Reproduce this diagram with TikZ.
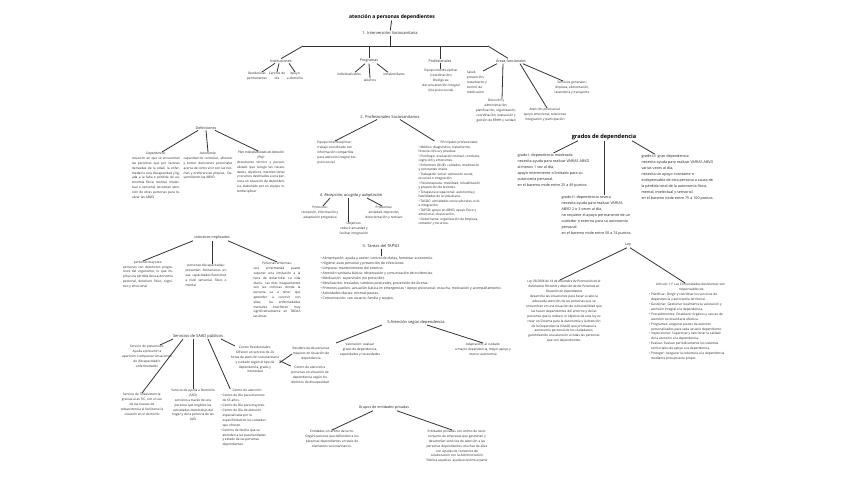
\documentclass[tikz,border=0pt]{standalone}
\usepackage{fontspec}
\setmainfont{Open Sans}
\newcommand\contind{\phantom{\textbullet\ }}
\begin{document}
\begin{tikzpicture}[x=1pt,y=-1pt,
  txs/.style={font=\fontsize{3.2}{4.8}\selectfont, inner sep=0.3pt, align=center, text=black!85},
  txj/.style={txs, align=justify},
  txg/.style={font=\fontsize{3.7}{6}\selectfont, inner sep=0.3pt, align=left, text=black!85},
  txt/.style={font=\fontsize{3.4}{5}\selectfont, inner sep=0.3pt, align=left, text=black!85},
  hdr/.style={font=\fontsize{4}{5}\selectfont, inner sep=0.8pt, text=black!85},
  sbh/.style={font=\fontsize{3.6}{4.5}\selectfont, inner sep=0.8pt, text=black!85},
  hdb/.style={font=\bfseries\fontsize{5}{6}\selectfont, inner sep=0.8pt},
  lnk/.style={draw=black!80, line width=0.8pt}]
\useasboundingbox[fill=white] (0,0) rectangle (848,477);

% ---- 1. Intervención
\node[hdb] (tit) at (392,17) {atención a personas dependientes};
\node[hdr] (int) at (390,33) {1. Intervención Sociosanitaria};
\coordinate (barL) at (303,46);
\coordinate (barR) at (488,46);
\draw[lnk] (tit) -- (int);
\draw[lnk] (int.south) -- (int.south |- barL);
\draw[lnk] (barL) -- (barR);
\node[sbh] (ins) at (281,61) {Instituciones};
\node[sbh] (prg) at (369,61) {Programas};
\node[sbh] (prf) at (440,61) {Profesionales};
\node[sbh] (are) at (511,61) {Áreas funcionales};
\draw[lnk] (barL) -- (ins.north);
\draw[lnk] (prg.north |- barL) -- (prg.north);
\draw[lnk] (prf.north |- barL) -- (prf.north);
\draw[lnk] (barR) -- ([xshift=-3]are.north);

\node[txs, anchor=north] (res) at (257,72) {Residencias\\permanentes};
\node[txs, anchor=north] (cdd) at (277,72) {Centros de\\día};
\node[txs, anchor=north] (apd) at (295,72) {Apoyo\\a domicilio};
\draw[lnk] ([xshift=-6]ins.south) -- ([xshift=5]res.north);
\draw[lnk] ([xshift=-2]ins.south) -- (cdd.north);
\draw[lnk] ([xshift=8]ins.south) -- (apd.north);

\node[txs] (ind) at (349,74) {individualizados};
\node[txs] (abi) at (370,80) {abiertos};
\node[txs] (itf) at (394,74) {intrafamiliares};
\draw[lnk] ([xshift=-4]prg.south) -- ([xshift=6]ind.north);
\draw[lnk] (prg.south) -- (abi.north);
\draw[lnk] ([xshift=8]prg.south) -- ([xshift=-6]itf.north);

\node[txs, anchor=north] (prt) at (441,69) {Equipo interdisciplinar\\(coordinación)\\Biológicas:\\dar una atención integral\\(bio-psico-social)};
\draw[lnk] (prf.south) -- (prf.south |- prt.north);

\node[txs, align=left, anchor=north] (sal) at (477,71) {Salud:\\prevención,\\tratamiento y\\control de\\medicación};
\node[txs, anchor=north] (dir) at (496,99) {Dirección y\\administración:\\planificación, organización,\\coordinación, evaluación y\\gestión de RRHH y calidad};
\node[txs, anchor=north] (psi) at (545,108) {Atención psicosocial:\\apoyo emocional, relaciones\\integración y participación};
\node[txs, anchor=north] (ser) at (572,81) {Servicios generales:\\limpieza, alimentación,\\lavandería y transporte};
\draw[lnk] ([xshift=-14]are.south) -- ([xshift=6]sal.north);
\draw[lnk] ([xshift=-8]are.south) -- ([xshift=6]dir.north);
\draw[lnk] ([xshift=9]are.south) -- ([xshift=2]psi.north);
\draw[lnk] ([xshift=-4]are.south east) -- ([xshift=-9]ser.north);

% ---- 2. Profesionales
\node[hdr] (s2) at (390,117) {2. Profesionales Sociosanitarios};
\node[txs, align=left, anchor=north] (eqi) at (337,141) {Equipo interdisciplinar:\\trabajo coordinado con\\información compartida\\para atención integral bio-\\psico-social};
\node[txs, align=left, anchor=north west, font=\fontsize{3.2}{4.5}\selectfont] (ppr) at (418,141) {\hspace*{22pt}Principales profesionales\\
\textbullet\ Médico: diagnóstico, tratamiento,\\historia clínica y pruebas.\\
\textbullet\ Psicólogo: evaluación mental, conducta,\\cognición y emociones.\\
\textbullet\ Enfermero (DUE): cuidados, medicación\\y constantes vitales.\\
\textbullet\ Trabajador social: valoración social,\\recursos e integración.\\
\textbullet\ Fisioterapeuta: movilidad, rehabilitación\\y prevención de lesiones.\\
\textbullet\ Terapeuta ocupacional: autonomía y\\habilidades de la vida diaria.\\
\textbullet\ TASOC: actividades socioculturales, ocio\\e integración.\\
\textbullet\ TAPSD: apoyo en ABVD, apoyo físico y\\emocional, observación.\\
\textbullet\ Gobernanta: organización de limpieza,\\comedor y recursos.};
\draw[lnk] ([xshift=-13]s2.south) -- ([xshift=-2]eqi.north);
\draw[lnk] ([xshift=10]s2.south) -- ([xshift=-15]ppr.north);

% ---- Definiciones
\node[sbh] (def) at (206,128) {Definiciones};
\node[txj, text width=48, anchor=north] (dep) at (156,152) {{\centering\textit{Dependencia:}\par}situación en que se encuentran las personas que por razones derivadas de la edad, la enfermedad o una discapacidad y ligada a la falta o pérdida de autonomía física, mental, intelectual o sensorial necesitan atención de otras personas para realizar las ABVD};
\node[txj, text width=49, anchor=north] (aut) at (208,152) {{\centering\textit{Autonomía:}\par}capacidad de controlar, afrontar y tomar decisiones personales acerca de cómo vivir con las normas y preferencias propias. Desarrollando las ABVD};
\node[txj, text width=48, anchor=north] (pia) at (261,151) {{\centering\textit{Plan Individualizado de Atención (PIA):}\par}documento técnico y personalizado que recoge las necesidades, objetivos, intervenciones y recursos destinados a una persona en situación de dependencia, elaborado por un equipo interdisciplinar};
\draw[lnk] ([xshift=-8]def.south) -- ([xshift=6]dep.north);
\draw[lnk] (def.south) -- (aut.north);
\draw[lnk] ([xshift=9]def.south) -- ([xshift=-3]pia.north);

% ---- 4. Recepción
\node[hdr, font=\fontsize{4}{5}\selectfont\itshape] (s4) at (351,195) {4. Recepción, acogida y adaptación};
\node[txs, anchor=north] (pro) at (320,206) {Protocolo:\\recepción, información y\\adaptación progresiva};
\node[txs, anchor=north] (obj) at (354,222) {Objetivos:\\reducir ansiedad y\\facilitar integración};
\node[txs, anchor=north] (prb) at (384,206) {Problemas:\\ansiedad, depresión,\\desorientación y rechazo};
\draw[lnk] ([xshift=-21]s4.south) -- ([xshift=3]pro.north);
\draw[lnk] ([xshift=-3]s4.south) -- ([xshift=-6]obj.north);
\draw[lnk] ([xshift=16]s4.south) -- ([xshift=-2]prb.north);

% ---- grados
\node[hdb, font=\bfseries\fontsize{5.6}{6.5}\selectfont] (gra) at (604,137) {grados de dependencia};
\node[txg, anchor=north west] (g1) at (517,153) {grado I: dependencia moderada\\necesita ayuda para realizar VARIAS ABVD\\al menos 1 vez al día,\\apoyo intermitente o limitado para su\\autonomía personal.\\en el baremo mide entre 25 a 49 puntos.};
\node[txg, anchor=north west] (g2) at (561,195) {grado II: dependencia severa\\necesita ayuda para realizar VARIAS\\ABVD 2 o 3 veces al día,\\no requiere el apoyo permanente de un\\cuidador o externo para su autonomía\\personal.\\en el baremo mide entre 50 a 74 puntos.};
\node[txg, anchor=north west] (g3) at (641,154) {grado III: gran dependencia\\necesita ayuda para realizar VARIAS ABVD\\varias veces al día,\\necesita un apoyo constante e\\indispensable de otra persona a causa de\\la pérdida total de la autonomía física,\\mental, intelectual y sensorial\\en el baremo mide entre 75 a 100 puntos.};
\draw[lnk] ([xshift=-26]gra.south) -- (g1.north);
\draw[lnk] (gra.south) -- (gra.south |- g2.north);
\draw[lnk] ([xshift=28]gra.south) -- ([xshift=-23]g3.north);

% ---- Ley
\node[sbh] (ley) at (628,245) {Ley};
\node[txs, anchor=north, font=\fontsize{3.2}{4.9}\selectfont] (leyL) at (564,280) {\textit{Ley 39/2006 de 14 de diciembre de Promoción de la}\\\textit{Autonomía Personal y Atención de las Personas en}\\\textit{Situación de Dependencia}\\desarrolla las situaciones para llevar a cabo la\\adecuada atención de las personas que se\\encuentran en una situación de vulnerabilidad que\\las hacen dependientes del entorno y de las\\personas que le rodean; el objetivo de esta ley es\\crear un Sistema para la Autonomía y la Atención\\de la Dependencia (SAAD) que promueva la\\autonomía personal de los ciudadanos,\\garantizando una atención a todas las personas\\que son dependientes.};
\node[txs, align=left, anchor=north, font=\fontsize{3.2}{4.9}\selectfont] (leyR) at (687,283) {\hspace*{7pt}Artículo 11º Las Comunidades Autónomas son\\\hspace*{30pt}responsables de:\\
\textbullet\ Planificar: Dirigir y coordinar los servicios de\\\contind dependencia y autonomía territorial.\\
\textbullet\ Gestionar: Gestionar localmente la valoración y\\\contind atención integral a la dependencia.\\
\textbullet\ Procedimientos: Establecer órganos y cauces de\\\contind atención sociosanitaria efectiva.\\
\textbullet\ Programas: asegurar planes de atención\\\contind personalizados para cada usuario dependiente.\\
\textbullet\ Inspeccionar: Supervisar y sancionar la calidad\\\contind de la atención a la dependencia.\\
\textbullet\ Evaluar: Evaluar periódicamente los sistemas\\\contind territoriales de apoyo a la dependencia.\\
\textbullet\ Proteger: Asegurar la cobertura a la dependencia\\\contind mediante presupuesto propio.};
\draw[lnk] ([xshift=-1]ley.south) -- ([xshift=-4]leyL.north);
\draw[lnk] ([xshift=2]ley.south) -- ([xshift=-2]leyR.north);

% ---- colectivos
\node[sbh] (col) at (212,238) {colectivos implicados};
\node[txj, text width=50, anchor=north] (may) at (148,261) {{\centering personas mayores:\par}personas con deterioros progresivos del organismo, lo que implica una pérdida de la autonomía personal, deterioro físico, cognitivo y emocional};
\node[txj, text width=41, anchor=north] (dis) at (206,264) {{\centering personas discapacitadas:\par}presentan limitaciones en\linebreak sus capacidades/funciones\linebreak a nivel sensorial, físico o\linebreak mental};
\node[txj, text width=47, anchor=north] (enf) at (277,262) {{\centering Personas enfermas:\par}una enfermedad puede suponer una limitación a la hora de desarrollar su vida diaria. las más incapacitantes son las crónicas donde la persona va a tener que aprender a convivir con ellas; las enfermedades mentales interfieren muy significativamente en TODAS las áreas};
\draw[lnk] ([xshift=-19]col.south) -- ([xshift=-5]may.north);
\draw[lnk] (col.south) -- (col.south |- dis.north);
\draw[lnk] ([xshift=16]col.south) -- (enf.north);

% ---- 3. TAPSD
\node[hdr] (tap) at (381,246) {3. Tareas del TAPSD};
\node[txt, anchor=north west] (tls) at (320,256) {\textbullet\ Alimentación: ayuda a comer, control de dietas, fomentar autonomía.\\
\textbullet\ Higiene: aseo personal y prevención de infecciones.\\
\textbullet\ Limpieza: mantenimiento del entorno.\\
\textbullet\ Atención sanitaria básica: observación y comunicación de incidencias.\\
\textbullet\ Medicación: supervisión (no prescribir).\\
\textbullet\ Movilización: traslados, cambios posturales, prevención de úlceras.\\
\textbullet\ Primeros auxilios: actuación básica en emergencias \textbullet\ Apoyo psicosocial: escucha, motivación y acompañamiento.\\
\textbullet\ Actividades diarias: mismas pautas.\\
\textbullet\ Comunicación: con usuario, familia y equipo.};
\draw[lnk] (tap.south) -- (tap.south |- tls.north);

% ---- 5. Atención según dependencia
\node[hdr] (s5) at (416,322) {5.Atención según dependencia};
\node[txs, anchor=north] (val) at (360,343) {Valoración: evaluar\\grado de dependencia,\\capacidades y necesidades};
\node[txs, anchor=north] (ada) at (483,343) {Adaptación: al cuidado\\a mayor dependencia, mayor apoyo y\\menor autonomía};
\draw[lnk] ([xshift=-34]s5.south) -- ([xshift=-24]val.north);
\draw[lnk] ([xshift=11]s5.south) -- (ada.north);

% ---- Grupos de entidades privadas
\node[sbh] (grp) at (384,408) {Grupos de entidades privadas};
\node[txs, anchor=north] (esl) at (332,430) {Entidades sin ánimo de lucro:\\Organizaciones que defienden a los\\personas dependientes a través de\\elementos sociosanitarios.};
\node[txs, anchor=north] (ecl) at (457,430) {Entidades privadas con ánimo de lucro:\\conjunto de empresas que gestionan y\\desarrollan servicios de atención a las\\personas dependientes, muchas de ellas\\con ayudas de convenios de\\colaboración con la Administración\\Pública aquellas: ayuda económica parte};
\draw[lnk] ([xshift=-11]grp.south) -- (esl.north);
\draw[lnk] ([xshift=13]grp.south) -- ([xshift=-5]ecl.north);

% ---- Servicios de SAAD públicos
\node[hdr] (saad) at (198,336) {Servicios de SAAD públicos};
\node[txs, anchor=north] (prev) at (147,345) {Servicio de prevención:\\Ayuda a prevenir la\\aparición o empeorar situaciones\\de discapacidad/o\\enfermedades};
\node[txs, anchor=north] (tele) at (142,393) {Servicio de Teleasistencia:\\gracias a las TIC, con el uso\\de las nuevas de\\teleasistencia al facilitarse la\\creación en el domicilio};
\node[txs, anchor=north] (sad) at (193,389) {Servicio de ayuda a Domicilio\\(SAD)\\servicios a través de una\\persona que englobe las\\actividades domésticas del\\hogar y de la persona de las\\AVD};
\node[txs, align=left, anchor=north west, font=\fontsize{3.2}{4.9}\selectfont] (cat) at (220,389) {\hspace*{12pt}Centro de atención:\\
\textbullet\ Centro de Día para menores\\\contind de 65 años.\\
\textbullet\ Centro de Día para mayores.\\
\textbullet\ Centro de Día de atención\\\contind especializada por la\\\contind especificidad de los cuidados\\\contind que ofrecen.\\
\textbullet\ Centros de Noche que se\\\contind atienden a las peculiaridades\\\contind y estado de las personas\\\contind dependientes.};
\node[txs, anchor=north] (cres) at (255,346) {Centro Residenciales:\\Ofrecen un servicio de 24\\horas de atención sociosanitaria\\y cuidado según el tipo de\\dependencia, grado y\\intensidad};
\node[txs, anchor=north] (rpm) at (311,347) {Residencias de personas\\mayores en situación de\\dependencia};
\node[txs, anchor=north] (cap) at (310,366) {Centro de atención a\\personas en situación de\\dependencia según los\\distintos de discapacidad};
\draw[lnk] ([xshift=-25]saad.south) -- ([xshift=13]prev.north);
\draw[lnk] ([xshift=-15]saad.south) -- (tele.north);
\draw[lnk] ([xshift=-5]saad.south) -- (sad.north);
\draw[lnk] ([xshift=10]saad.south) -- ([xshift=-13]cat.north);
\draw[lnk] ([xshift=-3]saad.south east) -- ([xshift=-20]cres.north);
\draw[lnk] ([yshift=-3]cres.east) -- (rpm.west);
\draw[lnk] ([yshift=-1]cres.east) -- (cap.north west);
\end{tikzpicture}
\end{document}
